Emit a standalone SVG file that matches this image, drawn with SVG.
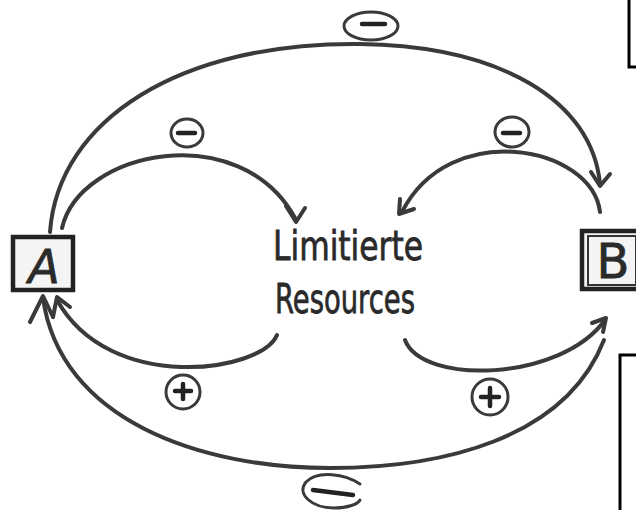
<svg xmlns="http://www.w3.org/2000/svg" width="636" height="510" viewBox="0 0 636 510">
<defs>
<style>
.ln{fill:none;stroke:#3a3a3a;stroke-width:4;stroke-linecap:round;stroke-linejoin:round}
.lbl{fill:none;stroke:#3a3a3a;stroke-width:3;stroke-linecap:round}
.sign{fill:none;stroke:#222;stroke-width:4.5;stroke-linecap:round}
.edge{fill:none;stroke:#000;stroke-width:3}
.box{fill:#f4f4f4;stroke:#222;stroke-width:4.5}
.hand{font-family:"DejaVu Sans","Liberation Sans",sans-serif;fill:#2a2a2a;stroke:#2a2a2a;stroke-width:0.8}
</style>
</defs>
<rect width="636" height="510" fill="#ffffff"/>
<path class="edge" d="M629 0 V67 H636"/>
<path class="edge" d="M636 355 H620 V510"/>
<g id="connectors">
<path class="ln" d="M50 232 C58 120 180 42 360 44 C500 46 592 100 600 184"/>
<path class="ln" d="M591 172 L600 186 L610 174"/>
<path class="ln" d="M62 228 C80 150 240 118 295 218"/>
<path class="ln" d="M286 206 L296 222 L305 208"/>
<path class="ln" d="M600 212 C592 146 450 118 402 212"/>
<path class="ln" d="M400 199 L399 214 L414 209"/>
<path class="ln" d="M277 335 C262 372 110 395 57 300"/>
<path class="ln" d="M53 317 L57 297 L70 307"/>
<path class="ln" d="M405 340 C422 385 560 382 605 320"/>
<path class="ln" d="M592 323 L606 318 L603 332"/>
<path class="ln" d="M604 340 C565 440 440 468 330 468 C200 468 60 420 43 298"/>
<path class="ln" d="M30 322 L43 296 L53 317"/>
</g>
<g id="label-top"><ellipse class="lbl" cx="371" cy="26" rx="27" ry="14"/><path class="sign" d="M362 24 H385"/></g>
<g id="label-tl"><ellipse class="lbl" cx="187" cy="133" rx="16" ry="14"/><path class="sign" d="M178 133 H195"/></g>
<g id="label-tr"><ellipse class="lbl" cx="512" cy="132" rx="17" ry="15"/><path class="sign" d="M503 133 H520"/></g>
<g id="label-bl"><circle class="lbl" cx="183" cy="392" r="17"/><path class="sign" d="M175 391 H191 M183 384 V399"/></g>
<g id="label-br"><circle class="lbl" cx="490" cy="397" r="18"/><path class="sign" d="M481 397 H499 M490 388 V406"/></g>
<g id="label-bottom"><path class="lbl" d="M360 484 C345 474 318 470 306 482 C296 494 312 508 334 508 C348 508 358 504 360 500"/><path class="sign" d="M313 490 L353 495"/></g>
<g id="node-A"><rect class="box" x="13" y="237" width="60" height="53"/><text class="hand" x="44" y="283" font-size="46" font-style="italic" text-anchor="middle">A</text></g>
<g id="node-B"><rect class="box" x="582" y="231" width="58" height="58"/><rect x="588" y="236" width="48" height="49" fill="none" stroke="#333" stroke-width="2"/><text class="hand" x="613" y="278" font-size="48" text-anchor="middle">B</text></g>
<g id="node-R"><text class="hand" x="273" y="260" font-size="40" textLength="150" lengthAdjust="spacingAndGlyphs">Limitierte</text><text class="hand" x="275" y="313" font-size="40" textLength="140" lengthAdjust="spacingAndGlyphs">Resources</text></g>
</svg>
